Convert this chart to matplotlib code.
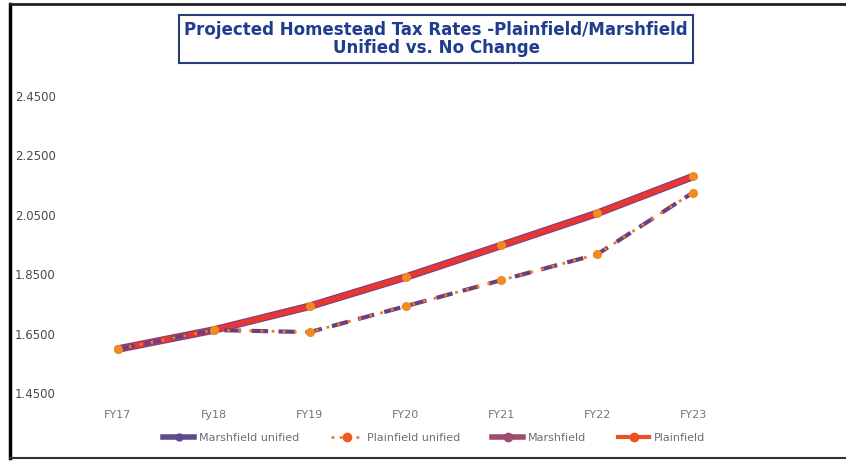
import numpy as np
import matplotlib.pyplot as plt
from matplotlib.lines import Line2D

years = ["FY17", "Fy18", "FY19", "FY20", "FY21", "FY22", "FY23"]
marshfield_unified = [1.598, 1.662, 1.655, 1.742, 1.830, 1.917, 2.125]
plainfield_unified = [1.598, 1.662, 1.655, 1.742, 1.830, 1.917, 2.125]
marshfield = [1.598, 1.662, 1.742, 1.840, 1.947, 2.055, 2.179]
plainfield = [1.598, 1.662, 1.742, 1.840, 1.947, 2.055, 2.179]
yticks = [1.45, 1.65, 1.85, 2.05, 2.25, 2.45]

W, H = 846, 461
fig = plt.figure(figsize=(W / 100, H / 100), dpi=100)
ax = fig.add_axes([70 / W, (H - 393) / H, 671 / W, 297 / H])

x = np.arange(len(years))
ax.plot(x, marshfield, color="#7d3f86", lw=5.5, solid_capstyle="round", label="Marshfield")
ax.plot(x, plainfield, color="#e8382e", lw=3.8, marker="o", ms=5.5, solid_capstyle="round",
        mfc="#f08a24", mec="#f08a24", label="Plainfield")
ax.plot(x, marshfield_unified, color="#6a3f80", lw=3, ls=(0, (4, 2.5)), label="Marshfield unified")
ax.plot(x, plainfield_unified, color="#f07a24", lw=2, ls=(0, (1, 3)), marker="o", ms=5.5,
        mfc="#f08a24", mec="#f08a24", label="Plainfield unified")

ax.set_xlim(-0.5, 6.5)
ax.set_ylim(1.45, 2.45)
ax.set_xticks(x)
ax.set_xticklabels(years)
ax.set_yticks(yticks)
ax.set_yticklabels(["%.4f" % v for v in yticks])
for s in ax.spines.values():
    s.set_visible(False)
ax.tick_params(length=0, colors="#4a4a4a", labelsize=8.5)
ax.tick_params(axis="x", pad=12, colors="#6a7680", labelsize=8)
for lab in ax.get_yticklabels():
    lab.set_horizontalalignment("left")
    lab.set_x(-0.0745)

# legend
handles = [
    Line2D([], [], color="#5e4b8f", lw=4, marker="o", ms=5, mfc="#5e4b8f", mec="#5e4b8f"),
    Line2D([], [], color="#f07a24", lw=2, ls=(0, (1, 2)), marker="o", ms=6, mfc="#f05a24", mec="#f05a24"),
    Line2D([], [], color="#a04a6e", lw=4, marker="o", ms=6, mfc="#a04a6e", mec="#a04a6e"),
    Line2D([], [], color="#f04e23", lw=3, marker="o", ms=6, mfc="#f04e23", mec="#f04e23"),
]
labels = ["Marshfield unified", "Plainfield unified", "Marshfield", "Plainfield"]
leg = fig.legend(handles, labels, loc="center", bbox_to_anchor=(434 / W, (H - 438) / H), ncol=4,
                 frameon=False, fontsize=8, handlelength=2.8, columnspacing=2.9, handletextpad=0.4)
for t in leg.get_texts():
    t.set_color("#6a6f78")

# title
fig.text(436 / W, (H - 39) / H,
         "Projected Homestead Tax Rates -Plainfield/Marshfield\nUnified vs. No Change",
         ha="center", va="center", fontsize=13.3, fontweight="bold", color="#1f3c8e",
         family=["Liberation Sans Narrow", "DejaVu Sans"], fontstretch="condensed", linespacing=1.05,
         bbox=dict(boxstyle="square,pad=0.3", fc="white", ec="#2a3f78", lw=1.5))

# outer frame
fig.add_artist(Line2D([10 / W, 10 / W], [(H - 4) / H, (H - 458) / H], color="black", lw=2.5))
fig.add_artist(Line2D([10 / W, 1], [(H - 4) / H, (H - 4) / H], color="#222222", lw=2))
fig.add_artist(Line2D([10 / W, 1], [(H - 458) / H, (H - 458) / H], color="#333333", lw=1.5))

fig.savefig("out.png", dpi=100)
